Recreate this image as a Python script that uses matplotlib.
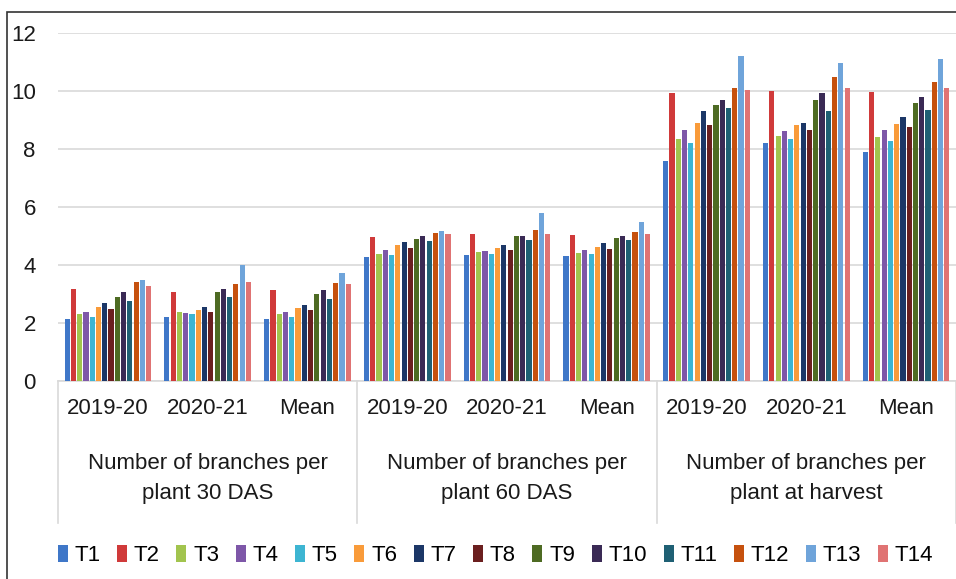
import numpy as np
import matplotlib.pyplot as plt
from matplotlib.lines import Line2D
from matplotlib.patches import Rectangle

plt.rcParams['font.family'] = ['Liberation Sans', 'DejaVu Sans']

treatments = ['T1', 'T2', 'T3', 'T4', 'T5', 'T6', 'T7',
              'T8', 'T9', 'T10', 'T11', 'T12', 'T13', 'T14']
seasons = ['2019-20', '2020-21', 'Mean']
stages = ['Number of branches per\nplant 30 DAS',
          'Number of branches per\nplant 60 DAS',
          'Number of branches per\nplant at harvest']

# rows: 30 DAS (2019-20, 2020-21, Mean), 60 DAS (...), harvest (...)
branches = np.array([
    [2.13, 3.17, 2.30, 2.37, 2.20, 2.56, 2.70, 2.47, 2.89, 3.08, 2.77, 3.40, 3.48, 3.27],
    [2.20, 3.08, 2.37, 2.33, 2.30, 2.45, 2.56, 2.38, 3.08, 3.16, 2.89, 3.33, 4.00, 3.40],
    [2.14, 3.15, 2.31, 2.37, 2.22, 2.53, 2.61, 2.45, 3.00, 3.15, 2.84, 3.37, 3.72, 3.33],
    [4.29, 4.98, 4.38, 4.51, 4.36, 4.68, 4.80, 4.60, 4.89, 4.99, 4.84, 5.09, 5.18, 5.06],
    [4.36, 5.07, 4.45, 4.47, 4.39, 4.59, 4.69, 4.51, 4.99, 4.99, 4.86, 5.20, 5.79, 5.07],
    [4.30, 5.03, 4.41, 4.51, 4.37, 4.63, 4.75, 4.55, 4.92, 4.99, 4.86, 5.15, 5.49, 5.07],
    [7.60, 9.94, 8.36, 8.64, 8.20, 8.88, 9.32, 8.82, 9.53, 9.68, 9.40, 10.12, 11.22, 10.03],
    [8.21, 10.00, 8.44, 8.62, 8.36, 8.82, 8.90, 8.64, 9.68, 9.94, 9.32, 10.48, 10.98, 10.12],
    [7.90, 9.97, 8.42, 8.64, 8.29, 8.85, 9.09, 8.75, 9.60, 9.80, 9.34, 10.32, 11.10, 10.09],
])

colors = ['#3F77C8', '#D03A3A', '#A2C44E', '#7E57A8', '#3DB5D2', '#F99B3A', '#1C3767',
          '#6B1F1F', '#4E6B23', '#3A2A55', '#1F6074', '#C6510E', '#6FA4DA', '#E07373']

fig = plt.figure(figsize=(9.56, 5.79), dpi=100)
ax = fig.add_axes([58 / 956, 1 - 381 / 579, 1 - 58 / 956, 348 / 579])

n_cat = branches.shape[0]
x = np.arange(n_cat)
step = 0.88 / len(treatments)
for i, (name, c) in enumerate(zip(treatments, colors)):
    offset = -0.44 + step * (i + 0.5)
    ax.bar(x + offset, branches[:, i], width=step * 0.82, color=c, label=name, zorder=3)

ax.set_xlim(-0.5, n_cat - 0.5)
ax.set_ylim(0, 12)
ax.set_yticks(np.arange(0, 13, 2))
ax.yaxis.grid(True, color='#D9D9D9', lw=1.2, zorder=0)
ax.tick_params(axis='y', length=0, pad=16, labelsize=16, labelcolor='#1a1a1a')
for s in ['top', 'right', 'left']:
    ax.spines[s].set_visible(False)
ax.spines['bottom'].set_color('#D9D9D9')
ax.spines['bottom'].set_linewidth(1.2)

ax.set_xticks(x)
ax.set_xticklabels(seasons * len(stages))
ax.tick_params(axis='x', length=0, pad=12, labelsize=16, labelcolor='#1a1a1a')

# stage labels and separators under the season labels
trans = ax.get_xaxis_transform()
for g, label in enumerate(stages):
    ax.text(3 * g + 1, -0.28, label, transform=trans, ha='center', va='center',
            fontsize=16, color='#1a1a1a', linespacing=1.6)
for b in range(len(stages) + 1):
    ax.add_line(Line2D([3 * b - 0.5] * 2, [0, -0.408], transform=trans,
                       color='#D9D9D9', lw=1.2, clip_on=False))

fig.legend(loc='center', bbox_to_anchor=(0.518, 0.04), ncol=len(treatments), frameon=False,
           fontsize=16, handlelength=0.45, handleheight=0.8, handletextpad=0.3,
           columnspacing=0.75, borderaxespad=0)

fig.add_artist(Rectangle((7 / 956, -0.1), 1.2, 1.1 - 12 / 579, transform=fig.transFigure,
                         fill=False, edgecolor='#333333', lw=1.2))

fig.savefig('out.png', dpi=100)
